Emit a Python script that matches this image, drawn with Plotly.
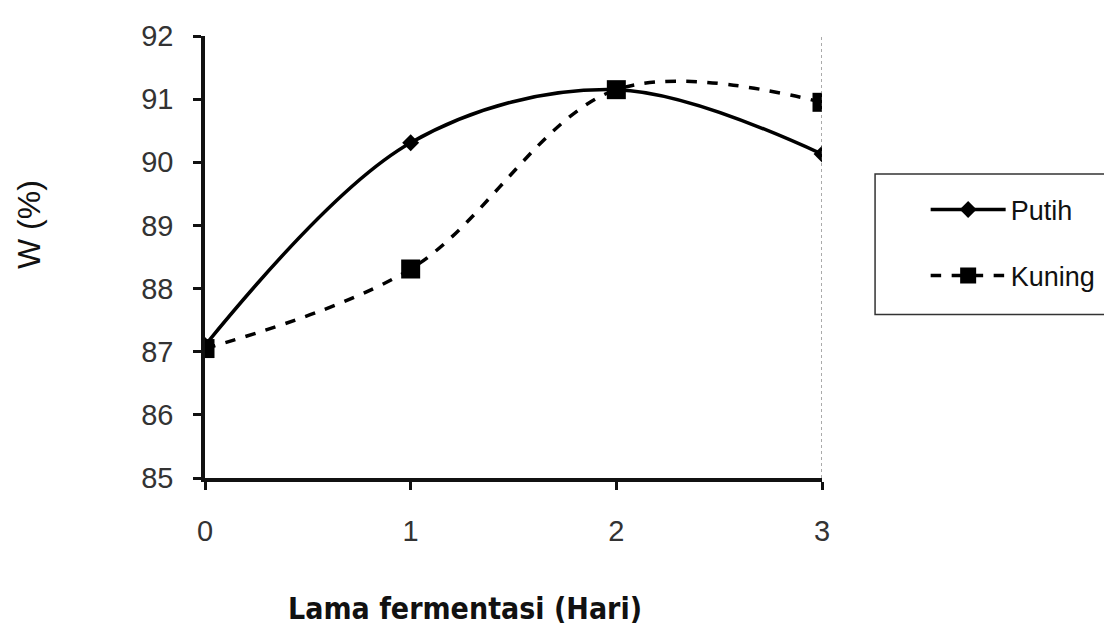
import plotly.graph_objects as go

days = [0, 1, 2, 3]
putih = [87.1, 90.31, 91.15, 90.13]
kuning = [87.05, 88.31, 91.15, 90.95]
y_ticks = [85, 86, 87, 88, 89, 90, 91, 92]
x_ticks = [0, 1, 2, 3]

fig = go.Figure()
fig.add_trace(go.Scatter(
    x=days, y=putih, name="Putih", mode="lines+markers",
    line=dict(color="black", width=3.5, shape="spline", smoothing=1.0),
    marker=dict(symbol="diamond", size=13, color="black"),
    legendgroup="a",
))
fig.add_trace(go.Scatter(
    x=days, y=kuning, name="Kuning", mode="lines+markers",
    line=dict(color="black", width=3.5, dash="dash", shape="spline", smoothing=1.0),
    marker=dict(symbol="square", size=19, color="black"),
    legendgroup="b",
))

fig.add_shape(type="line", xref="x", yref="paper", x0=3, x1=3, y0=0, y1=1,
              line=dict(color="#555", width=1, dash="dot"))
# legend frame
fig.add_shape(type="rect", xref="paper", yref="paper",
              x0=1.086, x1=1.6, y0=0.37, y1=0.688,
              line=dict(color="#333", width=1.5), fillcolor="rgba(0,0,0,0)")

fig.add_annotation(text="W (%)", xref="paper", yref="paper", x=-0.284, y=0.574,
                   textangle=-90, showarrow=False, xanchor="center", yanchor="middle",
                   font=dict(size=32, color="#111"))
fig.add_annotation(text="<b>Lama fermentasi (Hari)</b>", xref="paper", yref="paper",
                   x=(465 - 205) / 617, y=(478 - 612) / 453,
                   showarrow=False, xanchor="center", yanchor="middle",
                   font=dict(family="DejaVu Sans Condensed, Liberation Sans", size=30, color="#111"))

fig.update_layout(
    width=1112, height=629,
    margin=dict(l=197, r=298, t=17, b=159),
    paper_bgcolor="white", plot_bgcolor="white",
    font=dict(family="Liberation Sans, Arial, sans-serif", color="#222"),
    showlegend=True,
    legend=dict(
        x=1.168, y=0.662, xanchor="left", yanchor="top",
        borderwidth=0, bgcolor="rgba(0,0,0,0)",
        font=dict(size=27, color="#111"),
        tracegroupgap=28, itemwidth=75,
    ),
    xaxis=dict(
        range=[0, 3], tickvals=x_ticks, ticktext=[str(v) for v in x_ticks],
        showgrid=False, zeroline=False, showline=True, linecolor="#111", linewidth=3.5,
        ticks="outside", ticklen=8, tickwidth=3, tickcolor="#111",
        tickfont=dict(size=29, color="#333"),
        ticklabelstandoff=16,
    ),
    yaxis=dict(
        range=[85, 92], tickvals=y_ticks,
        showgrid=False, zeroline=False, showline=True, linecolor="#111", linewidth=3.5,
        ticks="outside", ticklen=8, tickwidth=3, tickcolor="#111",
        tickfont=dict(size=29, color="#333"),
        ticklabelstandoff=14,
    ),
)

fig.write_html("out.html")
